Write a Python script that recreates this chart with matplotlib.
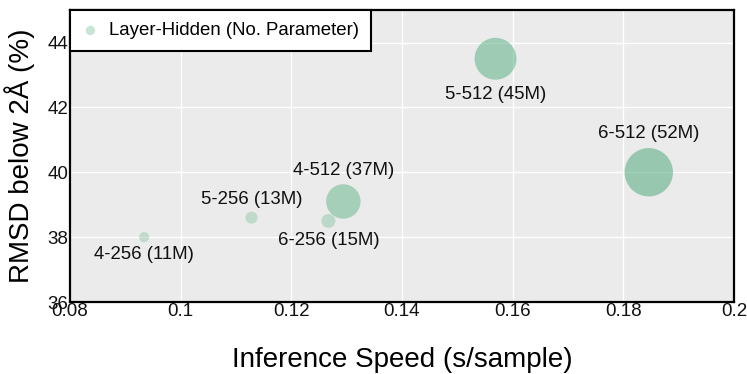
import numpy as np
import matplotlib
matplotlib.use("Agg")
import matplotlib.pyplot as plt
from matplotlib.colors import to_rgba

plt.rcParams["font.family"] = ["Liberation Sans", "DejaVu Sans"]

# data
names = ["4-256", "5-256", "6-256", "4-512", "5-512", "6-512"]
params = [11, 13, 15, 37, 45, 52]          # M
speed = [0.0934, 0.1128, 0.1267, 0.1294, 0.1569, 0.1846]   # s/sample
rmsd = [38.0, 38.6, 38.5, 39.1, 43.5, 40.0]                # %
label_pos = ["below", "above", "below", "above", "below", "above"]

BASE = "#5fb287"
p = np.array(params, float)
alpha = 0.6 * (0.5 + 0.5 * (p - p.min()) / (p.max() - p.min()))
sizes = (0.67 * p) ** 2
cols = [to_rgba(BASE, a) for a in alpha]

fig = plt.figure(figsize=(7.47, 3.74), dpi=100)
ax = fig.add_axes([0.0937, 0.1925, 0.8889, 0.7805])
ax.set_facecolor("#ebebeb")
ax.grid(True, color="white", lw=1.0)
ax.set_axisbelow(True)

ax.scatter(speed, rmsd, s=sizes, c=cols, linewidths=0, zorder=3)
# legend proxy
ax.scatter([], [], s=45, color=to_rgba(BASE, 0.35), linewidths=0,
           label="Layer-Hidden (No. Parameter)")

for n, pm, x, y, pos, s in zip(names, params, speed, rmsd, label_pos, sizes):
    r = np.sqrt(s) / 2
    off = r + 8.5 + 0.12 * r
    dy = off if pos == "above" else -off
    ax.annotate(f"{n} ({pm}M)", (x, y), xytext=(0, dy), textcoords="offset points",
                ha="center", va="center", fontsize=13.4, color="#111111", zorder=4)

ax.set_xlim(0.08, 0.2)
ax.set_ylim(36, 45)
ax.set_xticks([0.08, 0.1, 0.12, 0.14, 0.16, 0.18, 0.2])
ax.set_xticklabels(["0.08", "0.1", "0.12", "0.14", "0.16", "0.18", "0.2"])
ax.set_yticks([36, 38, 40, 42, 44])
ax.tick_params(length=0, labelsize=13.5, pad=1, colors="#111111")
for sp in ax.spines.values():
    sp.set_linewidth(1.6)
    sp.set_color("black")

ax.set_xlabel("Inference Speed (s/sample)", fontsize=20, labelpad=19)
ax.set_ylabel("RMSD below 2Å (%)", fontsize=20, labelpad=9)

leg = ax.legend(loc="upper left", borderaxespad=0, fontsize=13.4, fancybox=False,
                framealpha=1, edgecolor="black", handletextpad=0.55, borderpad=0.65,
                handlelength=0.9)
leg.get_frame().set_linewidth(1.5)

fig.savefig("out.png", dpi=100)
